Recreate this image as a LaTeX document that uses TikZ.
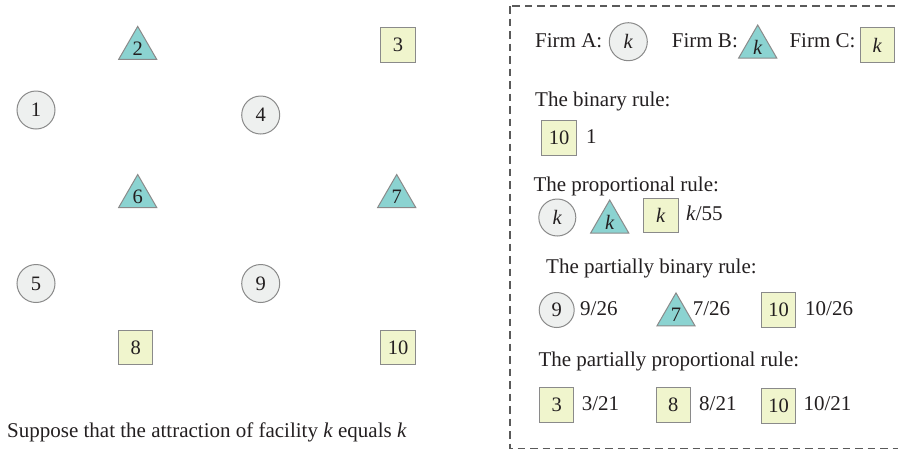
\documentclass[tikz,border=0pt]{standalone}
\usepackage{fontspec}
\setmainfont{Liberation Serif}
\usetikzlibrary{shapes.geometric}
\definecolor{txt}{HTML}{231F20}
\definecolor{edge}{HTML}{8A8A8A}
\definecolor{cfill}{HTML}{EEF0EF}
\definecolor{tfill}{HTML}{8BD3D1}
\definecolor{sfill}{HTML}{F0F5CD}
\definecolor{dash}{HTML}{5A5A5A}
\tikzset{
  firmA/.style={circle, draw=edge, fill=cfill, line width=1pt, minimum size=38pt, inner sep=0pt, text=txt, font=\fontsize{20.5}{24}\selectfont},
  firmB/.style={regular polygon, regular polygon sides=3, draw=edge, fill=tfill, line width=1pt, minimum size=44pt, inner sep=0pt, text=txt, font=\fontsize{20.5}{24}\selectfont},
  firmC/.style={rectangle, draw=edge, fill=sfill, line width=1pt, minimum size=34.5pt, inner sep=0pt, text=txt, font=\fontsize{20.5}{24}\selectfont},
  lbl/.style={anchor=base west, inner sep=0pt, text=txt, font=\fontsize{21}{24}\selectfont},
  panel/.style={draw=dash, line width=1.3pt, dash pattern=on 7.5pt off 5pt}
}
\begin{document}
\begin{tikzpicture}[x=1pt, y=-1pt]
\useasboundingbox (0,0) rectangle (898,451);
% left map
\node[firmA] (f1) at (36,110) {1};
\node[firmB] (f2) at (137.7,48.4) {2};
\node[firmC] (f3) at (398,45) {3};
\node[firmA] (f4) at (260.7,115) {4};
\node[firmA] (f5) at (36,283.5) {5};
\node[firmB] (f6) at (137.7,196.5) {6};
\node[firmB] (f7) at (396.7,196.5) {7};
\node[firmC] (f8) at (135.7,347.3) {8};
\node[firmA] (f9) at (260.7,283.5) {9};
\node[firmC] (f10) at (398,347.3) {10};
\node[lbl] (note) at (7,437) {Suppose that the attraction of facility \textit{k} equals \textit{k}};
% legend panel
\draw[panel] (510,6) rectangle (910,448.3);
\node[lbl] (tA) at (535,47.3) {Firm A:};
\node[firmA] (kA) at (628.3,41.7) {\textit{k}};
\node[lbl] (tB) at (671.7,47.3) {Firm B:};
\node[firmB] (kB) at (757.7,47) {\textit{k}};
\node[lbl] (tC) at (789.3,47.3) {Firm C:};
\node[firmC] (kC) at (877.3,45) {\textit{k}};
\node[lbl] (hbin) at (535,106) {The binary rule:};
\node[firmC] (b10) at (559,138) {10};
\node[lbl] (b10v) at (586,143.3) {1};
\node[lbl] (hprop) at (533.3,191.7) {The proportional rule:};
\node[firmA, minimum size=37pt] (pA) at (557.3,217.5) {\textit{k}};
\node[firmB] (pB) at (609.7,222) {\textit{k}};
\node[firmC] (pC) at (660.8,215.3) {\textit{k}};
\node[lbl] (pv) at (686,220) {\textit{k}/55};
\node[lbl] (hpb) at (546,273.3) {The partially binary rule:};
\node[firmA, minimum size=35pt] (pb9) at (556.7,310) {9};
\node[lbl] (pb9v) at (580,315.7) {9/26};
\node[firmB] (pb7) at (676,314.9) {7};
\node[lbl] (pb7v) at (692.7,315.7) {7/26};
\node[firmC] (pb10) at (778.5,310) {10};
\node[lbl] (pb10v) at (805,315.7) {10/26};
\node[lbl] (hpp) at (538.3,366.7) {The partially proportional rule:};
\node[firmC] (pp3) at (556.7,404.8) {3};
\node[lbl] (pp3v) at (581.7,410.7) {3/21};
\node[firmC] (pp8) at (673.3,405) {8};
\node[lbl] (pp8v) at (699,410.7) {8/21};
\node[firmC] (pp10) at (778.5,405.8) {10};
\node[lbl] (pp10v) at (803.3,410.7) {10/21};
\end{tikzpicture}
\end{document}
